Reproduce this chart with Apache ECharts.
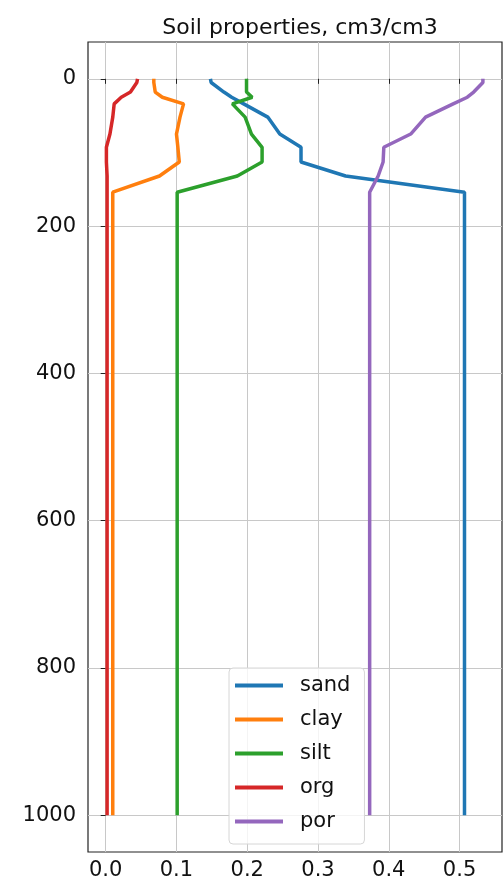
<!DOCTYPE html>
<html>
<head>
<meta charset="utf-8">
<script src="https://cdn.jsdelivr.net/npm/echarts@6/dist/echarts.min.js"></script>
<style>
  html, body { margin: 0; padding: 0; background: #fff; }
  #chart { width: 504px; height: 885px; }
</style>
</head>
<body>
<div id="chart"></div>
<script>
// depth of each node (same for every profile)
var depth = [0, 5, 18, 25, 34, 52, 75, 93, 113, 132, 154, 1000];

var sand = [0.148, 0.149, 0.167, 0.178, 0.195, 0.229, 0.246, 0.276, 0.276, 0.339, 0.507, 0.507];
var clay = [0.068, 0.068, 0.070, 0.080, 0.110, 0.105, 0.100, 0.102, 0.104, 0.076, 0.010, 0.010];
var silt = [0.199, 0.199, 0.199, 0.207, 0.179, 0.197, 0.206, 0.221, 0.221, 0.186, 0.101, 0.101];
var org  = [0.045, 0.044, 0.035, 0.022, 0.012, 0.010, 0.006, 0.001, 0.001, 0.002, 0.002, 0.002];
var por  = [0.533, 0.533, 0.520, 0.511, 0.491, 0.452, 0.431, 0.393, 0.392, 0.385, 0.373, 0.373];

var names = ['sand', 'clay', 'silt', 'org', 'por'];
var colors = ['#1f77b4', '#ff7f0e', '#2ca02c', '#d62728', '#9467bd'];

var xTicks = [0, 0.1, 0.2, 0.3, 0.4, 0.5];
var yTicks = [0, 200, 400, 600, 800, 1000];

function pairs(vals) {
	return vals.map(function (v, i) { return [v, depth[i]]; });
}

var chart = echarts.init(document.getElementById('chart'));
var font = 'DejaVu Sans';

chart.setOption({
	animation: false,
	color: colors,
	title: {
		text: 'Soil properties, cm3/cm3',
		left: 295,
		top: 12,
		textAlign: 'center',
		textStyle: { fontFamily: font, fontSize: 22, fontWeight: 'normal', color: '#111' }
	},
	legend: {
		orient: 'vertical',
		left: 229,
		top: 668,
		data: names,
		icon: 'rect',
		itemWidth: 48,
		itemHeight: 4,
		itemGap: 13,
		padding: [7, 14, 12, 6],
		backgroundColor: 'rgba(255,255,255,0.8)',
		borderColor: '#d6d6d6',
		borderWidth: 1,
		borderRadius: 4,
		textStyle: { fontFamily: font, fontSize: 21, color: '#111', lineHeight: 20, padding: [0, 0, 0, 12] }
	},
	grid: {
		left: 88,
		right: 2,
		top: 42,
		bottom: 33,
		show: true,
		borderColor: '#222',
		borderWidth: 1.2,
		backgroundColor: '#fff'
	},
	xAxis: {
		type: 'value',
		min: -0.025,
		max: 0.56,
		axisLine: { show: false },
		axisTick: { show: true, length: 5, customValues: xTicks, lineStyle: { color: '#222' } },
		axisLabel: {
			customValues: xTicks,
			margin: 8,
			fontFamily: font,
			fontSize: 21,
			color: '#111',
			formatter: function (v) { return v.toFixed(1); }
		},
		splitLine: { show: true, lineStyle: { color: '#c8c8c8', width: 1 } }
	},
	yAxis: {
		type: 'value',
		inverse: true,
		min: -50,
		max: 1050,
		axisLine: { show: false },
		axisTick: { show: true, length: 5, customValues: yTicks, lineStyle: { color: '#222' } },
		axisLabel: {
			customValues: yTicks,
			margin: 12,
			fontFamily: font,
			fontSize: 21,
			color: '#111',
			formatter: function (v) { return String(v); }
		},
		splitLine: { show: true, lineStyle: { color: '#c8c8c8', width: 1 } }
	},
	series: [sand, clay, silt, org, por].map(function (vals, i) {
		return {
			name: names[i],
			type: 'line',
			showSymbol: false,
			symbol: 'none',
			lineStyle: { width: 3.5, color: colors[i] },
			data: pairs(vals)
		};
	})
});
</script>
</body>
</html>
